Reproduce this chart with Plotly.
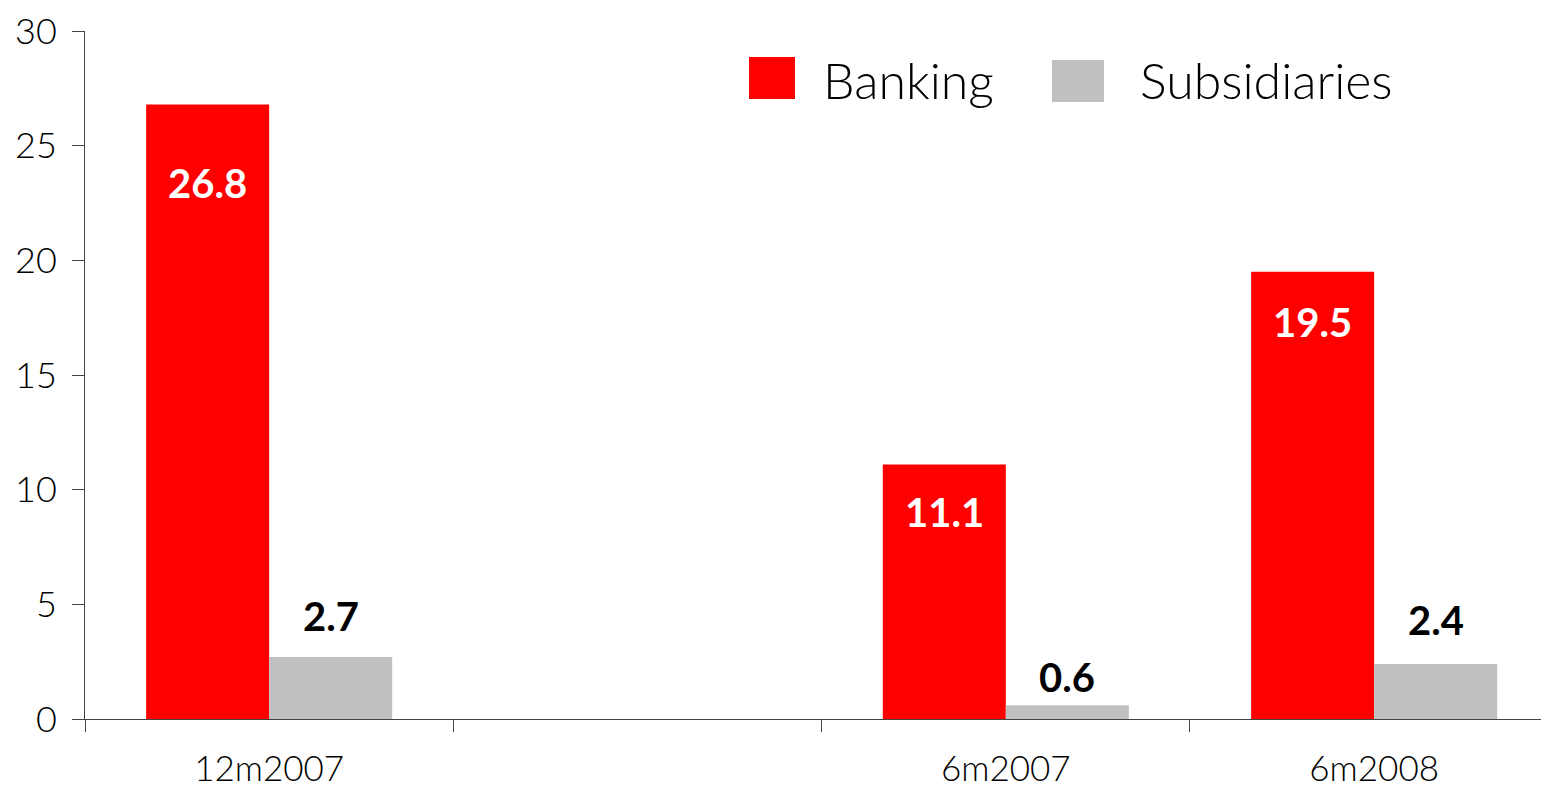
import plotly.graph_objects as go

# Categories (the second slot is an intentionally empty period)
categories = ["12m2007", " ", "6m2007", "6m2008"]
banking = [26.8, None, 11.1, 19.5]
subsidiaries = [2.7, None, 0.6, 2.4]
y_ticks = [0, 5, 10, 15, 20, 25, 30]

RED = "#ff0000"
GRAY = "#c0c0c0"
FONT = "Lato, 'DejaVu Sans', sans-serif"

W, H = 1541, 793
ml, mr, mt, mb = 85, 0, 31, 74
pw, ph = W - ml - mr, H - mt - mb


def px_x(p):
    return (p - ml) / pw


def px_y(p):
    return (H - mb - p) / ph


fig = go.Figure()
fig.add_trace(go.Bar(x=categories, y=banking, name="Banking",
                     marker=dict(color=RED, line=dict(width=0))))
fig.add_trace(go.Bar(x=categories, y=subsidiaries, name="Subsidiaries",
                     marker=dict(color=GRAY, line=dict(width=0))))

# Value labels: white inside the red bars, black above the gray bars
red_shift = [-79, None, -48, -50]
gray_shift = [41, None, 28, 44]
for i, cat in enumerate(categories):
    if banking[i] is not None:
        fig.add_annotation(x=i - 0.167, y=banking[i], yshift=red_shift[i],
                           text=f"<b>{banking[i]:.1f}</b>", showarrow=False,
                           font=dict(family=FONT, size=40, color="white"),
                           yanchor="middle")
    if subsidiaries[i] is not None:
        fig.add_annotation(x=i + 0.167, y=subsidiaries[i], yshift=gray_shift[i],
                           text=f"<b>{subsidiaries[i]:.1f}</b>", showarrow=False,
                           font=dict(family=FONT, size=40, color="black"),
                           yanchor="middle")

# Legend: large swatches with labels
swatches = [(749, 795, 57, 99, RED), (1052, 1104, 60, 102, GRAY)]
for x0, x1, y0, y1, color in swatches:
    fig.add_shape(type="rect", xref="paper", yref="paper",
                  x0=px_x(x0), x1=px_x(x1), y0=px_y(y1), y1=px_y(y0),
                  line=dict(width=0), fillcolor=color, layer="above")

legend_text = [("Banking", 821, 80), ("Subsidiaries", 1138, 80)]
for label, xpx, ypx in legend_text:
    fig.add_annotation(xref="paper", yref="paper", x=px_x(xpx), y=px_y(ypx),
                       xanchor="left", yanchor="middle", showarrow=False,
                       text=label,
                       font=dict(family=FONT, size=50, color="black", weight=300))

fig.update_layout(
    width=W, height=H,
    margin=dict(l=ml, r=mr, t=mt, b=mb, pad=0),
    paper_bgcolor="white", plot_bgcolor="white",
    barmode="group", bargap=0.332, bargroupgap=0,
    showlegend=False,
    font=dict(family=FONT, color="black"),
    xaxis=dict(
        type="category", categoryorder="array", categoryarray=categories,
        range=[-0.5, 3.453], tickson="boundaries",
        ticks="outside", ticklen=12, tickcolor="#444", tickwidth=1,
        showline=True, linecolor="#444", linewidth=1,
        showgrid=False, zeroline=False, automargin=False,
        tickfont=dict(family=FONT, size=35, color="black", weight=300),
        ticklabelstandoff=19,
        fixedrange=True,
    ),
    yaxis=dict(
        range=[0, 30], tickvals=y_ticks,
        ticks="outside", ticklen=12, tickcolor="#444", tickwidth=1,
        showline=True, linecolor="#444", linewidth=1,
        showgrid=False, zeroline=False, automargin=False,
        tickfont=dict(family=FONT, size=36, color="black", weight=300),
        ticklabelstandoff=8,
        fixedrange=True,
    ),
)

fig.write_html("out.html", config={"displayModeBar": False})
